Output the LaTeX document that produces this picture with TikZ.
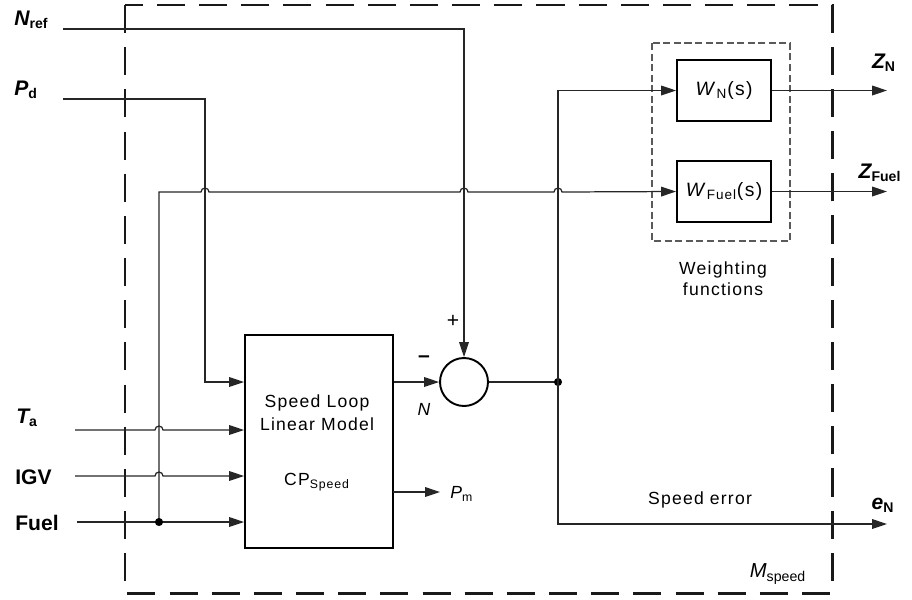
\documentclass[tikz,border=0pt]{standalone}
\usepackage{fontspec}
\setmainfont{Liberation Sans}
\usepackage{tikz}
\usetikzlibrary{calc,arrows.meta}
\definecolor{linegray}{HTML}{262626}
\definecolor{wgray}{HTML}{5A5A5A}
\newfontfamily\spaced[LetterSpace=7]{Liberation Sans}
\newcommand{\sig}[2]{{\bfseries\itshape #1}\textsubscript{\bfseries #2}}

\begin{document}
\begin{tikzpicture}[x=0.02cm,y=-0.02cm,>={Triangle[length=8.5pt,width=5.5pt]},
  wire/.style={draw=linegray,line width=0.7pt},
  blk/.style={draw=black,line width=1.1pt,inner sep=0pt},
  insig/.style={font=\large,anchor=west,inner sep=0pt},
  txt/.style={font=\spaced,inner sep=0pt}]
  \useasboundingbox (0,0) rectangle (912,599);
  % outer frame and weighting frame
  \draw[black!90,line width=1.7pt,dash pattern=on 16pt off 8pt] (125,5) rectangle (832,593);
  \draw[wgray,line width=0.6pt,dash pattern=on 4pt off 2pt] (652,43) rectangle (790,241);
  % blocks
  \node[blk,minimum width=2.96cm,minimum height=4.26cm] (model) at (319,441.5) {};
  \node[blk,circle,minimum size=0.96cm] (sum) at (464,382) {};
  \node[blk,minimum width=1.88cm,minimum height=1.22cm,font=\spaced\fontsize{11}{13}\selectfont] (wn) at (724,90.5) {\textit{W}\textsubscript{N}(s)};
  \node[blk,minimum width=1.88cm,minimum height=1.22cm,font=\spaced\fontsize{11}{13}\selectfont] (wfuel) at (724,191.5) {\textit{W}\textsubscript{Fuel}(s)};
  \node[txt] (t1) at (317,403) {Speed Loop};
  \node[txt] (t2) at (317,424) {Linear Model};
  \node[txt] (t3) at (317,482) {CP\textsubscript{Speed}};
  % inputs
  \node[insig] (lnref) at (14,20) {\sig{N}{ref}};
  \node[insig] (lpd) at (14,90) {\sig{P}{d}};
  \node[insig] (lta) at (16,418) {\sig{T}{a}};
  \node[insig,font=\large\bfseries] (ligv) at (15,477) {IGV};
  \node[insig,font=\large\bfseries] (lfuel) at (15,523) {Fuel};
  \coordinate (nref) at (63,29);
  \coordinate (pd) at (63,99);
  \coordinate (ta) at (75,430);
  \coordinate (igv) at (75,476);
  \coordinate (fuel) at (77,522);
  \coordinate (jfuel) at (159,522);
  \coordinate (jerr) at (558,382);
  \coordinate (eout) at (887,524);
  % wires
  \draw[wire,->] (nref) -| (sum.north);
  \draw[wire,->] (pd) -| (205,382) -- (model.west |- sum);
  \draw[wire,->] (ta) -- (155,430) arc[start angle=180,end angle=360,radius=4] -- (model.west |- ta);
  \draw[wire,->] (igv) -- (155,476) arc[start angle=180,end angle=360,radius=4] -- (model.west |- igv);
  \draw[wire,->] (fuel) -- (model.west |- fuel);
  \draw[wire,->] (jfuel) -- (159,192) -- (201,192) arc[start angle=180,end angle=360,radius=4]
    -- (460,192) arc[start angle=180,end angle=360,radius=4]
    -- (554,192) arc[start angle=180,end angle=360,radius=4] -- (wfuel.west);
  \fill[black] (jfuel) circle (2.3pt);
  \draw[wire,->] (model.east |- sum) -- (sum.west);
  \draw[wire,->] (393,492) -- (440,492);
  \node[anchor=west,inner sep=0pt] (pm) at (450,494) {\textit{P}\textsubscript{m}};
  \draw[wire] (sum.east) -- (jerr);
  \fill[black] (jerr) circle (2.3pt);
  \draw[wire,->] (jerr) |- (wn.west);
  \draw[wire,->] (jerr) |- (eout);
  \draw[wire,->] (wn.east) -- (wn.east -| eout);
  \draw[wire,->] (wfuel.east) -- (wfuel.east -| eout);
  % labels
  \node[font=\large] (plus) at (453,321) {+};
  \node[font=\large\bfseries] (minus) at (424,359) {--};
  \node[font=\itshape] (nlbl) at (424,409) {N};
  \node[font=\large] (zn) at (884,63) {\sig{Z}{N}};
  \node[font=\large] (zfuel) at (880,173) {\sig{Z}{Fuel}};
  \node[font=\large] (en) at (883,505) {\sig{e}{N}};
  \node[txt] (serr) at (700,500) {Speed error};
  \node[txt,align=center] (wlbl) at (723,279) {Weighting\\functions};
  \node[font=\fontsize{11.5}{13}\selectfont] (ms) at (778,574) {\textit{M}\textsubscript{speed}};
\end{tikzpicture}
\end{document}
